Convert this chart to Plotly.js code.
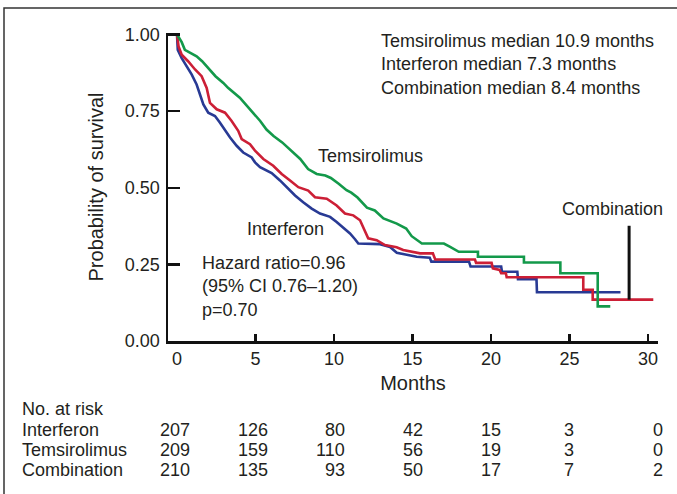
<!DOCTYPE html>
<html><head><meta charset="utf-8">
<script src="https://cdn.plot.ly/plotly-3.0.1.min.js"></script>
<style>html,body{margin:0;padding:0;background:#fff}#chart{width:677px;height:494px}</style>
</head><body><div id="chart"></div>
<script>
// Kaplan-Meier curves (months, probability of survival)
const tTem = [0,0.3,0.5,0.85,1.25,1.6,2.1,2.45,2.95,3.25,4.0,4.6,5.3,5.7,6.15,6.7,7.3,7.85,8.35,8.9,9.45,9.8,10.3,10.8,11.1,11.5,12.1,12.6,13.15,14.0,14.6,14.95,15.6,17.0,17.4,17.95,19.17,19.17,22.1,22.1,24.42,24.42,26.8,26.8,27.6];
const sTem = [1.0,0.975,0.95,0.939,0.929,0.913,0.886,0.864,0.842,0.826,0.794,0.760,0.718,0.690,0.669,0.648,0.621,0.594,0.561,0.545,0.540,0.532,0.513,0.492,0.484,0.468,0.435,0.426,0.400,0.383,0.367,0.342,0.318,0.318,0.307,0.291,0.291,0.275,0.275,0.256,0.256,0.221,0.221,0.113,0.113];

const tIfn = [0,0.05,0.30,0.62,0.94,1.25,1.46,1.68,1.99,2.42,2.74,3.06,3.38,3.80,4.22,4.76,4.97,5.29,5.50,6.03,6.56,6.99,7.52,8.04,8.58,9.11,9.75,10.17,10.59,11.02,11.34,11.55,12.93,13.57,14.0,15.27,16.1,16.2,18.6,18.7,20.65,20.7,21.68,21.72,22.9,22.93,28.25];
const sIfn = [1.0,0.950,0.923,0.896,0.869,0.837,0.805,0.772,0.745,0.734,0.712,0.686,0.664,0.637,0.615,0.599,0.583,0.567,0.562,0.548,0.524,0.502,0.475,0.453,0.432,0.416,0.405,0.388,0.370,0.351,0.332,0.318,0.316,0.307,0.288,0.275,0.272,0.259,0.259,0.243,0.243,0.226,0.226,0.202,0.202,0.159,0.159];

const tCom = [0,0.1,0.3,0.72,1.15,1.57,1.89,2.10,2.53,3.06,3.48,3.90,4.12,4.65,4.97,5.50,6.13,6.67,7.20,7.73,8.36,8.79,9.54,10.17,10.70,11.23,11.66,11.97,12.18,12.72,13.25,13.99,14.41,15.48,16.3,16.45,18.98,19.05,20.04,20.12,20.55,20.65,20.95,21.0,25.88,25.88,26.48,26.48,30.34];
const sCom = [1.0,0.961,0.934,0.912,0.886,0.864,0.826,0.777,0.756,0.745,0.718,0.686,0.659,0.642,0.621,0.594,0.572,0.545,0.524,0.502,0.491,0.469,0.464,0.442,0.416,0.410,0.394,0.361,0.335,0.329,0.313,0.306,0.297,0.286,0.286,0.266,0.266,0.255,0.255,0.237,0.232,0.221,0.221,0.208,0.208,0.167,0.167,0.135,0.135];

// censoring mark for Combination
const censorCom = {t: 28.8, s0: 0.135, s1: 0.376};

// number at risk table
const riskTimes = [0,5,10,15,20,25,30];
const riskGroups = ['Interferon','Temsirolimus','Combination'];
const riskInterferon = [207,126,80,42,15,3,0];
const riskTemsirolimus = [209,159,110,56,19,3,0];
const riskCombination = [210,135,93,50,17,7,2];

// axes
const xTickVals = [0,5,10,15,20,25,30];
const xTickMarks = [5,10,15,20,25,30];
const yTickVals = [0,0.25,0.5,0.75,1];
const yTickText = ['0.00','0.25','0.50','0.75','1.00'];

const medianLines = ['Temsirolimus median 10.9 months','Interferon median 7.3 months','Combination median 8.4 months'];
const hazardLines = ['Hazard ratio=0.96','(95% CI 0.76\u20131.20)','p=0.70'];

const FONT = '"Liberation Sans", Arial, Helvetica, sans-serif';
const TXT = '#231f20';
const GREEN = '#13994a', RED = '#cc1f36', BLUE = '#283a94';

// pixel helpers for paper placement (plot area: left 168, width 490, top 33, height 308.5)
const L = 168, W = 490, T = 33, H = 308.5;
const px = x => (x - L) / W;
const py = y => (T + H - y) / H;

const traces = [
  {x: tIfn, y: sIfn, mode: 'lines', line: {color: BLUE, width: 2.6}, name: 'Interferon', hoverinfo: 'x+y+name'},
  {x: tCom, y: sCom, mode: 'lines', line: {color: RED, width: 2.6}, name: 'Combination', hoverinfo: 'x+y+name'},
  {x: tTem, y: sTem, mode: 'lines', line: {color: GREEN, width: 2.6}, name: 'Temsirolimus', hoverinfo: 'x+y+name'},
  {x: [], y: [], xaxis: 'x2', yaxis: 'y', mode: 'lines', showlegend: false, hoverinfo: 'skip'}
];

const annotations = [];
const textFont = {family: FONT, size: 18, color: TXT};
annotations.push({xref: 'x', yref: 'y', x: 12.87, y: 0.902, xanchor: 'left', yanchor: 'middle', align: 'left',
  text: medianLines.join('<br>'), showarrow: false, font: textFont});
annotations.push({xref: 'x', yref: 'y', x: 1.46, y: 0.178, xanchor: 'left', yanchor: 'middle', align: 'left',
  text: hazardLines.join('<br>'), showarrow: false, font: textFont});
annotations.push({xref: 'x', yref: 'y', x: 8.85, y: 0.605, xanchor: 'left', yanchor: 'middle',
  text: 'Temsirolimus', showarrow: false, font: textFont});
annotations.push({xref: 'x', yref: 'y', x: 4.33, y: 0.364, xanchor: 'left', yanchor: 'middle',
  text: 'Interferon', showarrow: false, font: textFont});
annotations.push({xref: 'x', yref: 'y', x: 24.4, y: 0.432, xanchor: 'left', yanchor: 'middle',
  text: 'Combination', showarrow: false, font: textFont});

// number-at-risk table
annotations.push({xref: 'paper', yref: 'paper', x: px(20), y: py(410), xanchor: 'left', yanchor: 'middle',
  text: 'No. at risk', showarrow: false, font: textFont});
const riskRows = [riskInterferon, riskTemsirolimus, riskCombination];
const rowY = [431, 451, 471];
const colShift = [15, 14.5, 13, 12.5, 12, 6.5, 17];
riskRows.forEach((row, r) => {
  annotations.push({xref: 'paper', yref: 'paper', x: px(20), y: py(rowY[r]), xanchor: 'left', yanchor: 'middle',
    text: riskGroups[r], showarrow: false, font: textFont});
  row.forEach((v, c) => {
    annotations.push({xref: 'x', yref: 'paper', x: riskTimes[c], xshift: colShift[c], y: py(rowY[r]),
      xanchor: 'right', yanchor: 'middle', text: String(v), showarrow: false, font: textFont});
  });
});

const xr = [-0.573, 30.64];
const layout = {
  width: 677, height: 494,
  margin: {l: L, r: 677 - L - W, t: T, b: 494 - T - H, pad: 0},
  paper_bgcolor: '#fff', plot_bgcolor: '#fff',
  showlegend: false,
  font: {family: FONT, color: TXT, size: 18},
  xaxis: {
    range: xr, tickmode: 'array', tickvals: xTickVals, ticktext: xTickVals.map(String),
    ticks: '', showline: true, linecolor: '#111', linewidth: 2.5, showgrid: false, zeroline: false,
    tickfont: {family: FONT, size: 18, color: TXT}, ticklabelstandoff: 0, automargin: false,
    title: {text: 'Months', font: {family: FONT, size: 20, color: TXT}, standoff: 8}
  },
  xaxis2: {
    overlaying: 'x', anchor: 'y', side: 'bottom', range: xr, tickmode: 'array', tickvals: xTickMarks,
    ticks: 'inside', ticklen: 7, tickwidth: 2.5, tickcolor: '#111', showticklabels: false,
    showline: false, showgrid: false, zeroline: false, automargin: false
  },
  yaxis: {
    range: [0, 1.005], tickmode: 'array', tickvals: yTickVals, ticktext: yTickText,
    ticks: 'inside', ticklen: 12, tickwidth: 2.5, tickcolor: '#111',
    showline: true, linecolor: '#111', linewidth: 2.5, showgrid: false, zeroline: false,
    tickfont: {family: FONT, size: 18, color: TXT}, ticklabelstandoff: 2, automargin: false,
    title: {text: 'Probability of survival', font: {family: FONT, size: 20, color: TXT}, standoff: 16}
  },
  shapes: [
    {type: 'line', xref: 'x', yref: 'y', x0: censorCom.t, x1: censorCom.t, y0: censorCom.s0, y1: censorCom.s1,
     line: {color: '#111', width: 3}},
    {type: 'rect', xref: 'paper', yref: 'paper', x0: px(4), x1: px(720), y0: py(540), y1: py(8),
     line: {color: '#333', width: 1.5}, fillcolor: 'rgba(0,0,0,0)', layer: 'below'}
  ],
  annotations: annotations
};

Plotly.newPlot('chart', traces, layout, {displayModeBar: false, staticPlot: true});
</script>
</body></html>
